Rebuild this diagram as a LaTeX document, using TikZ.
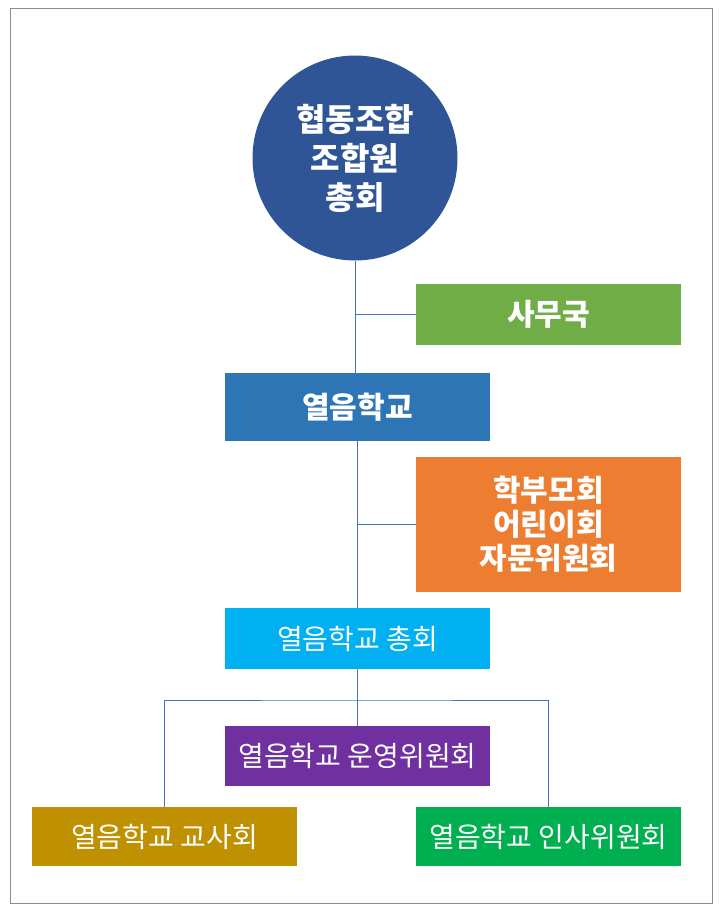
\documentclass[tikz,border=0pt]{standalone}
\usepackage{fontspec}
\newfontfamily\kr{Noto Sans CJK KR}
\definecolor{cBlue}{HTML}{2F5597}
\definecolor{cGreen}{HTML}{70AD47}
\definecolor{cMid}{HTML}{2E75B6}
\definecolor{cOrange}{HTML}{ED7D31}
\definecolor{cSky}{HTML}{00B0F0}
\definecolor{cPurple}{HTML}{7030A0}
\definecolor{cGold}{HTML}{BF9000}
\definecolor{cLeaf}{HTML}{00B050}
\definecolor{cLine}{HTML}{4472C4}
\definecolor{cFrame}{HTML}{8C8C8C}
\begin{document}
\begin{tikzpicture}[x=1pt,y=-1pt,
  orgbox/.style={rectangle,draw=none,inner sep=0pt,minimum width=265pt,text=white,align=center,font=\kr\fontsize{28}{34}\selectfont},
  boldbox/.style={orgbox,font=\kr\bfseries\fontsize{30}{34}\selectfont},
  link/.style={draw=cLine,line width=1pt}]
\useasboundingbox (0,0) rectangle (720,913);
\draw[cFrame,line width=1pt] (10,8) rectangle (712,903);
\node[circle,fill=cBlue,minimum size=205pt,inner sep=0pt,text=white,align=center,font=\kr\bfseries\fontsize{32}{39}\selectfont] (top) at (355,158) {협동조합\\조합원\\총회};
\node[boldbox,fill=cGreen,minimum height=61pt] (samu) at (548.5,314.5) {사무국};
\node[boldbox,fill=cMid,minimum height=68pt] (yeol) at (357.5,407) {열음학교};
\node[boldbox,fill=cOrange,minimum height=135pt] (parents) at (548.5,524.5) {학부모회\\어린이회\\자문위원회};
\node[orgbox,fill=cSky,minimum height=61pt] (chong) at (357.5,638.5) {열음학교 총회};
\node[orgbox,fill=cPurple,minimum height=60pt] (unyeong) at (357.5,756) {열음학교 운영위원회};
\node[orgbox,fill=cGold,minimum height=59pt] (gyosa) at (164.5,836.5) {열음학교 교사회};
\node[orgbox,fill=cLeaf,minimum height=59pt] (insa) at (548.5,836.5) {열음학교 인사위원회};
\coordinate (bar) at (357.5,700);
\path[link] (top.south) -- (top.south |- yeol.north);
\path[link] (top.south |- samu.west) -- (samu.west);
\path[link] (yeol.south) -- (chong.north);
\path[link] (yeol.south |- parents.west) -- (parents.west);
\path[link] (chong.south) -- (unyeong.north);
\path[link] (gyosa.north) |- (bar) -| (insa.north);
\end{tikzpicture}
\end{document}
